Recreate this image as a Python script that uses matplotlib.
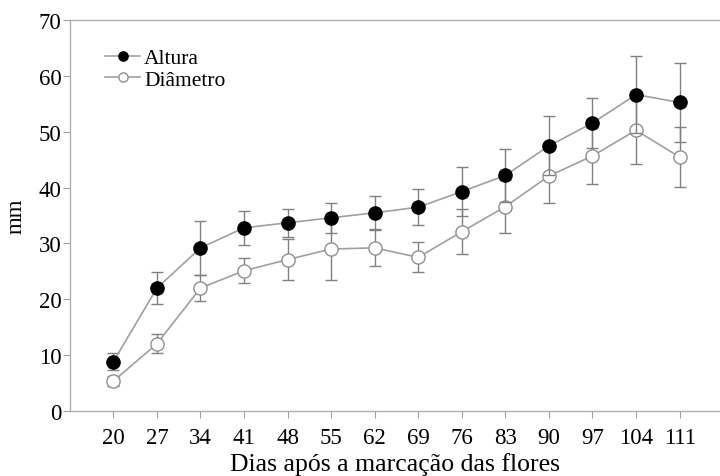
import numpy as np
import matplotlib
matplotlib.use("Agg")
import matplotlib.pyplot as plt

# dias apos a marcacao das flores
dias = [20, 27, 34, 41, 48, 55, 62, 69, 76, 83, 90, 97, 104, 111]

altura = [8.8, 22.0, 29.2, 32.8, 33.7, 34.6, 35.5, 36.5, 39.3, 42.2, 47.5, 51.6, 56.7, 55.3]
altura_err = [1.5, 2.8, 4.9, 3.1, 2.5, 2.7, 3.0, 3.2, 4.4, 4.7, 5.3, 4.5, 6.9, 7.1]

diametro = [5.3, 12.0, 22.0, 25.1, 27.1, 29.0, 29.2, 27.5, 32.1, 36.6, 42.1, 45.7, 50.3, 45.5]
diametro_err = [0.9, 1.7, 2.3, 2.2, 3.7, 5.5, 3.2, 2.7, 4.0, 4.7, 4.8, 5.0, 6.0, 5.3]

plt.rcParams['font.family'] = ['Liberation Serif', 'DejaVu Serif']
grey = '#a0a0a0'

fig = plt.figure(figsize=(7.2, 4.77), dpi=100)
ax = fig.add_axes([0.097, 0.137, 0.903, 0.818])

ax.errorbar(dias, altura, yerr=altura_err, color=grey, lw=1.2, ecolor='#808080',
            elinewidth=1.0, capsize=4, capthick=1.0, marker='o', markersize=9.5,
            markerfacecolor='black', markeredgecolor='black', label='Altura', zorder=3)
ax.errorbar(dias, diametro, yerr=diametro_err, color=grey, lw=1.2, ecolor='#808080',
            elinewidth=1.0, capsize=4, capthick=1.0, marker='o', markersize=9.5,
            markerfacecolor='white', markeredgecolor='#909090', label='Diâmetro', zorder=2)

ax.set_xlim(13, 117.5)
ax.set_ylim(0, 70)
ax.set_xticks(dias)
ax.set_yticks(np.arange(0, 71, 10))
ax.tick_params(axis='both', direction='out', length=5, color=grey, labelsize=16.5)
ax.tick_params(axis='x', pad=7)
ax.tick_params(axis='y', pad=1)

for s in ['left', 'bottom', 'top']:
    ax.spines[s].set_color('#b0b0b0')
    ax.spines[s].set_linewidth(1.0)
ax.spines['right'].set_visible(False)

ax.set_xlabel('Dias após a marcação das flores', fontsize=18.5, labelpad=3)
ax.set_ylabel('mm', fontsize=16.5, labelpad=9)

handles, labels = ax.get_legend_handles_labels()
handles = [h[0] for h in handles]
ax.legend(handles, labels, loc='upper left', bbox_to_anchor=(0.025, 0.978), frameon=False,
          fontsize=15.5, handlelength=1.6, handletextpad=0.2, labelspacing=0.05, markerscale=0.7)

fig.savefig('out.png', dpi=100)
